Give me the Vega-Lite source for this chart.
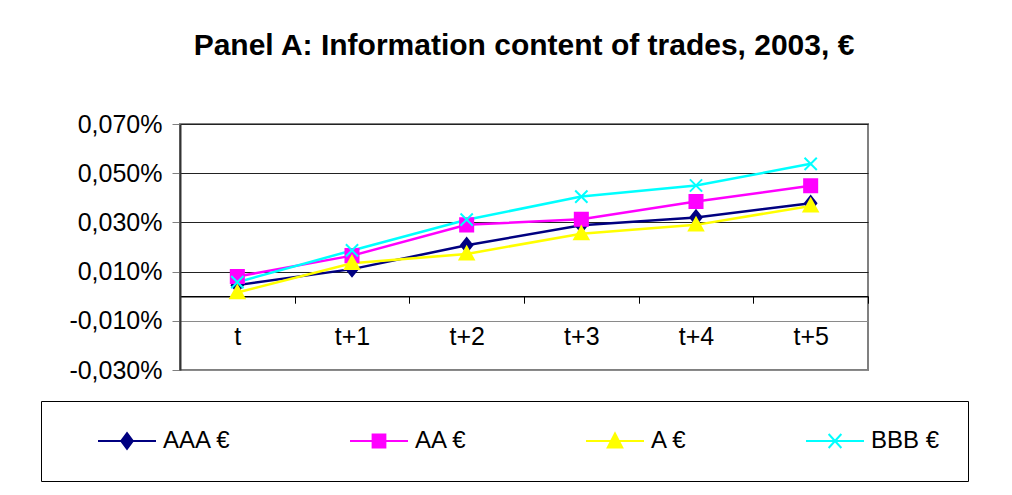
{
  "$schema": "https://vega.github.io/schema/vega-lite/v6.json",
  "width": 688,
  "height": 246,
  "autosize": "none",
  "padding": {"left": 180, "top": 124, "right": 144, "bottom": 125},
  "background": "white",
  "title": {
    "text": "Panel A: Information content of trades, 2003, €",
    "font": "Liberation Sans",
    "fontSize": 30,
    "fontWeight": "bold",
    "color": "black",
    "anchor": "middle",
    "offset": 51
  },
  "config": {
    "view": {"stroke": "#808080", "strokeWidth": 2},
    "font": "Liberation Sans"
  },
  "data": {
    "values": [
      {"h": "t", "s": "AAA €", "v": 0.0045},
      {"h": "t+1", "s": "AAA €", "v": 0.0110},
      {"h": "t+2", "s": "AAA €", "v": 0.0207},
      {"h": "t+3", "s": "AAA €", "v": 0.0288},
      {"h": "t+4", "s": "AAA €", "v": 0.0320},
      {"h": "t+5", "s": "AAA €", "v": 0.0378},
      {"h": "t", "s": "AA €", "v": 0.0080},
      {"h": "t+1", "s": "AA €", "v": 0.0165},
      {"h": "t+2", "s": "AA €", "v": 0.0290},
      {"h": "t+3", "s": "AA €", "v": 0.0313},
      {"h": "t+4", "s": "AA €", "v": 0.0385},
      {"h": "t+5", "s": "AA €", "v": 0.0449},
      {"h": "t", "s": "A €", "v": 0.0015},
      {"h": "t+1", "s": "A €", "v": 0.0134},
      {"h": "t+2", "s": "A €", "v": 0.0172},
      {"h": "t+3", "s": "A €", "v": 0.0254},
      {"h": "t+4", "s": "A €", "v": 0.0290},
      {"h": "t+5", "s": "A €", "v": 0.0367},
      {"h": "t", "s": "BBB €", "v": 0.0057},
      {"h": "t+1", "s": "BBB €", "v": 0.0186},
      {"h": "t+2", "s": "BBB €", "v": 0.0311},
      {"h": "t+3", "s": "BBB €", "v": 0.0405},
      {"h": "t+4", "s": "BBB €", "v": 0.0450},
      {"h": "t+5", "s": "BBB €", "v": 0.0538}
    ]
  },
  "encoding": {
    "x": {
      "field": "h",
      "type": "nominal",
      "sort": ["t", "t+1", "t+2", "t+3", "t+4", "t+5"],
      "scale": {"type": "band", "paddingInner": 0, "paddingOuter": 0},
      "axis": {
        "title": null,
        "offset": -73.8,
        "labelAngle": 0,
        "labelFont": "Liberation Sans",
        "labelFontSize": 25,
        "labelColor": "black",
        "labelPadding": 21,
        "tickBand": "extent",
        "tickSize": 7,
        "tickColor": "black",
        "domainColor": "black",
        "domainWidth": 1.5,
        "grid": false
      }
    },
    "y": {
      "field": "v",
      "type": "quantitative",
      "scale": {"domain": [-0.03, 0.07], "nice": false, "zero": false},
      "axis": {
        "title": null,
        "values": [-0.03, -0.01, 0.01, 0.03, 0.05, 0.07],
        "labelExpr": "(datum.value < 0 ? '-' : '') + replace(format(abs(datum.value), '.3f'), '.', ',') + '%'",
        "labelFont": "Liberation Sans",
        "labelFontSize": 25,
        "labelColor": "black",
        "labelPadding": 10,
        "tickSize": 8,
        "tickColor": "#808080",
        "domainColor": "#333333",
        "domainWidth": 2,
        "grid": true,
        "gridColor": {"condition": {"test": "datum.value < 0", "value": "#8a8a8a"}, "value": "#222222"},
        "gridWidth": 1
      }
    },
    "fill": {
      "field": "s",
      "type": "nominal",
      "scale": {"domain": ["AAA €", "AA €", "A €", "BBB €"], "range": ["#000080", "#FF00FF", "#FFFF00", "#00FFFF"]}
    },
    "stroke": {
      "field": "s",
      "type": "nominal",
      "scale": {"domain": ["AAA €", "AA €", "A €", "BBB €"], "range": ["#000080", "#FF00FF", "#FFFF00", "#00FFFF"]}
    }
  },
  "layer": [
    {
      "mark": {"type": "line", "strokeWidth": 2.5, "fill": null},
      "encoding": {"fill": {"value": null}}
    },
    {
      "transform": [{"filter": "datum.s === 'AAA €'"}],
      "mark": {"type": "point", "filled": true, "opacity": 1, "strokeWidth": 2, "size": 200, "shape": "M0,-1L0.8,0L0,1L-0.8,0Z"}
    },
    {
      "transform": [{"filter": "datum.s === 'AA €'"}],
      "mark": {"type": "point", "filled": true, "opacity": 1, "strokeWidth": 2, "size": 170, "shape": "M-1,-1L1,-1L1,1L-1,1Z"}
    },
    {
      "transform": [{"filter": "datum.s === 'A €'"}],
      "mark": {"type": "point", "filled": true, "opacity": 1, "strokeWidth": 2, "size": 200, "shape": "M0,-1L1,0.8L-1,0.8Z"}
    },
    {
      "transform": [{"filter": "datum.s === 'BBB €'"}],
      "mark": {"type": "point", "filled": true, "opacity": 1, "strokeWidth": 2, "size": 150, "shape": "M-1,-1L1,1M-1,1L1,-1"}
    },
    {
      "mark": {"type": "point", "filled": true, "opacity": 0, "strokeWidth": 2},
      "encoding": {
        "shape": {
          "field": "s",
          "type": "nominal",
          "scale": {"domain": ["AAA €", "AA €", "A €", "BBB €"], "range": ["M-1,0L1,0M0,-0.27L0.2,0L0,0.27L-0.2,0Z", "M-1,0L1,0M-0.22,-0.22L0.22,-0.22L0.22,0.22L-0.22,0.22Z", "M-1,0L1,0M0,-0.26L0.25,0.22L-0.25,0.22Z", "M-1,0L1,0M-0.22,-0.24L0.22,0.24M-0.22,0.24L0.22,-0.24"]},
          "legend": {
            "title": "\u00a0",
            "titleOrient": "left",
            "titleFontSize": 1,
            "titlePadding": 28,
            "orient": "none",
            "legendX": -139,
            "legendY": 277,
            "direction": "horizontal",
            "strokeColor": "black",
            "fillColor": "white",
            "padding": 28,
            "columnPadding": 117,
            "symbolSize": 3364,
            "symbolStrokeWidth": 2,
            "symbolOpacity": 1,
            "clipHeight": 24,
            "labelOffset": 6,
            "labelFont": "Liberation Sans",
            "labelFontSize": 24,
            "labelColor": "black",
            "labelLimit": 300
          }
        }
      }
    }
  ]
}
